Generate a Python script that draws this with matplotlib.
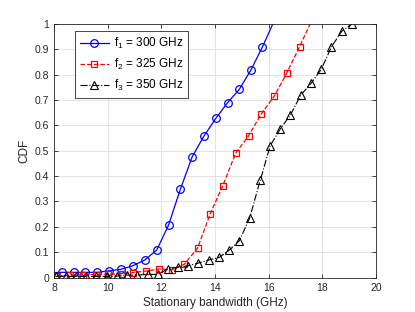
import matplotlib
matplotlib.use('Agg')
import matplotlib.pyplot as plt

plt.rcParams['font.family'] = ['Liberation Sans', 'DejaVu Sans']
plt.rcParams['mathtext.fontset'] = 'custom'
plt.rcParams['mathtext.rm'] = 'Liberation Sans'
plt.rcParams['mathtext.it'] = 'Liberation Sans'

# marker points
f1_x = [7.85, 8.29, 8.73, 9.17, 9.62, 10.06, 10.50, 10.94, 11.39, 11.83, 12.27,
        12.71, 13.15, 13.59, 14.03, 14.47, 14.91, 15.34, 15.77, 16.16]
f1_y = [0.020, 0.021, 0.021, 0.021, 0.021, 0.027, 0.033, 0.047, 0.070, 0.109, 0.207,
        0.348, 0.476, 0.558, 0.627, 0.689, 0.742, 0.818, 0.909, 1.0]

f2_x = [8.13, 8.60, 9.08, 9.55, 10.02, 10.53, 10.96, 11.43, 11.93, 12.41,
        12.86, 13.35, 13.82, 14.29, 14.77, 15.25, 15.72, 16.21, 16.68, 17.15, 17.55]
f2_y = [0.007, 0.010, 0.012, 0.012, 0.013, 0.015, 0.020, 0.026, 0.034, 0.031,
        0.053, 0.116, 0.251, 0.362, 0.490, 0.558, 0.644, 0.715, 0.807, 0.909, 1.0]

f3_x = [8.06, 8.44, 8.82, 9.20, 9.58, 9.96, 10.34, 10.71, 11.08, 11.50, 11.87,
        12.24, 12.61, 12.99, 13.36, 13.78, 14.16, 14.54, 14.91, 15.29, 15.69,
        16.06, 16.43, 16.81, 17.20, 17.58, 17.96, 18.34, 18.73, 19.11]
f3_y = [0.005, 0.005, 0.005, 0.005, 0.005, 0.005, 0.006, 0.010, 0.010, 0.013, 0.013,
        0.034, 0.041, 0.047, 0.057, 0.070, 0.080, 0.109, 0.146, 0.234, 0.385,
        0.520, 0.585, 0.641, 0.719, 0.765, 0.820, 0.909, 0.971, 1.0]

labels = [r'f$_1$ = 300 GHz', r'f$_2$ = 325 GHz', r'f$_3$ = 350 GHz']

fig = plt.figure(figsize=(4.15, 3.12), dpi=100)
ax = fig.add_axes([0.130, 0.110, 0.776, 0.814])

ax.plot(f1_x, f1_y, '-', color='blue', lw=0.9, marker='o', ms=5.5, mfc='none',
        mew=0.9, markevery=list(range(1, len(f1_x) - 1)), label=labels[0])
ax.plot(f2_x, f2_y, '--', color='red', lw=0.9, marker='s', ms=4, mfc='none',
        mew=0.9, markevery=list(range(len(f2_x) - 1)), label=labels[1])
ax.plot(f3_x, f3_y, '-.', color='black', lw=0.8, marker='^', ms=5.5, mfc='none',
        mew=0.8, label=labels[2])

ax.set_xlim(8, 20)
ax.set_ylim(0, 1)
ax.set_xticks(range(8, 21, 2))
ax.set_yticks([i / 10 for i in range(11)])
ax.set_yticklabels(['0'] + ['%.1f' % (i / 10) for i in range(1, 10)] + ['1'])
ax.grid(True, color='#e3e3e3', lw=0.7)
ax.set_axisbelow(True)
ax.tick_params(direction='in', length=3, width=0.6, labelsize=7.5,
               colors='#262626', top=True, right=True)
for s in ax.spines.values():
    s.set_color('#262626')
    s.set_linewidth(0.6)

ax.set_xlabel('Stationary bandwidth (GHz)', fontsize=8.5, color='#262626', labelpad=3)
ax.set_ylabel('CDF', fontsize=8.5, color='#262626', labelpad=3)

leg = ax.legend(loc='upper left', bbox_to_anchor=(0.065, 0.971), borderaxespad=0,
                fontsize=8.5, fancybox=False, edgecolor='#262626', framealpha=1,
                handlelength=2.5, borderpad=0.4, labelspacing=0.5, handletextpad=0.4)
leg.get_frame().set_linewidth(0.6)

fig.savefig('out.png', dpi=100)
